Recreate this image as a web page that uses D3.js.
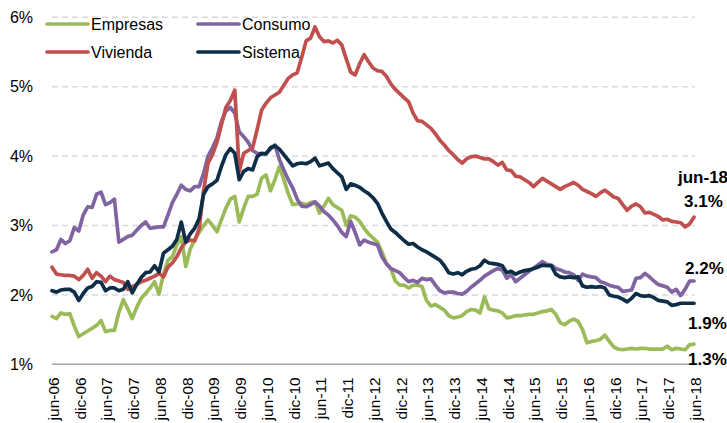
<!DOCTYPE html>
<html>
<head>
<meta charset="utf-8">
<script src="https://cdn.jsdelivr.net/npm/d3@7/dist/d3.min.js"></script>
<style>
  html, body { margin: 0; padding: 0; background: #fff; }
  svg { display: block; font-family: "Liberation Sans", Arial, sans-serif; }
</style>
</head>
<body>
<svg id="chart" width="727" height="423"></svg>
<script>
// ---- Data (monthly, jun-06 .. jun-18) ----
const xTickLabels = ["jun-06","dic-06","jun-07","dic-07","jun-08","dic-08","jun-09","dic-09","jun-10","dic-10","jun-11","dic-11","jun-12","dic-12","jun-13","dic-13","jun-14","dic-14","jun-15","dic-15","jun-16","dic-16","jun-17","dic-17","jun-18"];
const yTicks = [1, 2, 3, 4, 5, 6];
const seriesNames = ["Empresas", "Consumo", "Vivienda", "Sistema"];

const empresas = [
  1.69,1.66,1.74,1.72,1.73,1.55,1.40,1.44,1.48,1.52,1.56,1.63,
  1.47,1.49,1.49,1.75,1.93,1.80,1.66,1.82,1.95,2.02,2.10,2.19,
  2.01,2.30,2.50,2.55,2.72,2.84,2.41,2.66,2.79,2.90,3.00,3.08,
  3.00,2.91,3.08,3.25,3.38,3.42,3.05,3.25,3.42,3.42,3.45,3.68,
  3.73,3.50,3.66,3.85,3.66,3.46,3.30,3.31,3.32,3.30,3.33,3.34,
  3.18,3.28,3.39,3.30,3.26,3.22,3.00,3.14,3.12,3.06,2.96,2.88,
  2.82,2.76,2.62,2.45,2.38,2.20,2.14,2.14,2.10,2.14,2.14,2.12,
  1.92,1.84,1.86,1.82,1.78,1.70,1.67,1.68,1.70,1.76,1.79,1.78,
  1.74,1.97,1.80,1.78,1.77,1.74,1.67,1.68,1.70,1.70,1.71,1.72,
  1.72,1.74,1.76,1.77,1.79,1.72,1.60,1.57,1.62,1.65,1.62,1.50,
  1.31,1.33,1.34,1.36,1.42,1.33,1.25,1.22,1.21,1.22,1.23,1.22,
  1.23,1.23,1.22,1.22,1.22,1.22,1.26,1.21,1.23,1.22,1.21,1.28,
  1.29
];
const consumo = [
  2.62,2.65,2.80,2.74,2.78,2.97,2.92,3.15,3.27,3.26,3.45,3.48,
  3.30,3.33,3.38,2.76,2.80,2.84,2.86,2.93,3.00,3.05,2.96,2.97,
  2.98,2.98,3.15,3.33,3.45,3.58,3.52,3.50,3.56,3.56,3.75,4.00,
  4.12,4.26,4.50,4.65,4.70,4.62,4.35,4.28,4.20,4.08,4.04,4.03,
  4.04,4.10,4.16,3.95,3.80,3.66,3.54,3.38,3.28,3.27,3.30,3.34,
  3.28,3.20,3.15,3.08,3.00,2.90,2.84,3.06,2.90,2.72,2.79,2.76,
  2.74,2.72,2.55,2.45,2.38,2.35,2.32,2.25,2.19,2.21,2.18,2.24,
  2.22,2.23,2.14,2.06,2.03,2.04,2.04,2.02,2.01,2.05,2.11,2.16,
  2.21,2.27,2.31,2.35,2.38,2.36,2.24,2.29,2.19,2.24,2.29,2.34,
  2.38,2.43,2.48,2.44,2.43,2.38,2.36,2.33,2.32,2.29,2.21,2.30,
  2.27,2.26,2.25,2.19,2.17,2.14,2.12,2.11,2.05,2.06,2.07,2.24,
  2.25,2.31,2.26,2.20,2.15,2.13,2.11,2.04,2.08,1.99,2.08,2.20,
  2.20
];
const vivienda = [
  2.40,2.30,2.29,2.28,2.28,2.27,2.22,2.28,2.37,2.24,2.32,2.27,
  2.19,2.27,2.22,2.20,2.18,2.08,2.12,2.15,2.19,2.21,2.24,2.27,
  2.31,2.26,2.40,2.46,2.55,2.68,2.76,2.79,2.78,2.95,3.50,3.90,
  4.02,4.20,4.45,4.70,4.80,4.95,3.78,4.04,4.08,4.12,4.38,4.66,
  4.76,4.84,4.88,4.92,5.02,5.12,5.17,5.20,5.42,5.66,5.70,5.86,
  5.72,5.65,5.66,5.63,5.67,5.60,5.40,5.21,5.17,5.33,5.46,5.36,
  5.27,5.23,5.22,5.15,5.04,4.96,4.90,4.84,4.78,4.62,4.51,4.50,
  4.45,4.40,4.32,4.23,4.16,4.08,4.02,3.95,3.90,3.96,3.99,4.00,
  3.98,3.96,3.96,3.92,3.87,3.91,3.80,3.79,3.71,3.70,3.66,3.62,
  3.56,3.62,3.68,3.64,3.60,3.56,3.52,3.56,3.59,3.62,3.58,3.52,
  3.49,3.46,3.42,3.47,3.51,3.46,3.41,3.39,3.30,3.22,3.28,3.31,
  3.27,3.18,3.19,3.16,3.13,3.08,3.09,3.06,3.05,3.04,2.98,3.02,
  3.12
];
const sistema = [
  2.06,2.04,2.07,2.08,2.08,2.04,1.92,2.02,2.10,2.12,2.19,2.18,
  2.06,2.10,2.10,2.06,2.08,2.19,2.03,2.15,2.25,2.32,2.33,2.42,
  2.33,2.60,2.65,2.70,2.80,3.05,2.76,2.88,2.96,3.10,3.45,3.56,
  3.60,3.65,3.85,4.02,4.11,4.04,3.66,3.78,3.82,3.80,3.99,4.04,
  4.03,4.12,4.15,4.10,4.02,3.94,3.86,3.89,3.90,3.89,3.92,3.97,
  3.86,3.88,3.90,3.82,3.76,3.70,3.52,3.60,3.58,3.55,3.50,3.46,
  3.40,3.32,3.18,3.06,2.95,2.90,2.84,2.78,2.73,2.74,2.69,2.65,
  2.62,2.58,2.54,2.50,2.42,2.32,2.30,2.32,2.29,2.34,2.37,2.38,
  2.42,2.50,2.46,2.45,2.44,2.42,2.32,2.34,2.30,2.33,2.35,2.36,
  2.38,2.40,2.43,2.42,2.42,2.30,2.26,2.25,2.26,2.25,2.26,2.13,
  2.11,2.12,2.11,2.12,2.10,2.00,1.98,1.97,1.94,1.90,1.95,2.02,
  1.99,1.98,1.99,1.96,1.92,1.91,1.90,1.85,1.86,1.88,1.88,1.88,
  1.88
];
const endLabels = ["1.3%", "2.2%", "3.1%", "1.9%"];
const endTitle = "jun-18";

// ---- Layout / styles ----
const colors = { Empresas: "#9BBB59", Consumo: "#8064A2", Vivienda: "#C0504D", Sistema: "#0E2E47" };
const svg = d3.select("#chart");
const x = d3.scaleLinear().domain([0, empresas.length - 1]).range([52, 694]);
const y = d3.scaleLinear().domain([1, 6]).range([364.3, 17.3]);

// gridlines
svg.append("g").selectAll("line").data(yTicks.filter(d => d > 1)).join("line")
  .attr("x1", 52).attr("x2", 695)
  .attr("y1", d => y(d)).attr("y2", d => y(d))
  .attr("stroke", "#d9d9d9").attr("stroke-width", 1.5).attr("stroke-dasharray", "6,4");

// y axis
const yAxis = svg.append("g").attr("transform", "translate(52,0)")
  .call(d3.axisLeft(y).tickValues(yTicks).tickSize(0).tickPadding(19).tickFormat(d => d + "%"));
yAxis.select(".domain").remove();
yAxis.selectAll("text").attr("font-size", 16).attr("fill", "#000")
  .attr("font-family", "'Liberation Sans', Arial, sans-serif");

// x axis
const xTickVals = d3.range(0, empresas.length, 6);
const xAxis = svg.append("g").attr("transform", `translate(0,${y(1)})`)
  .call(d3.axisBottom(x).tickValues(xTickVals).tickSize(0).tickSizeOuter(0)
    .tickFormat((d, i) => xTickLabels[i]));
xAxis.select(".domain").attr("stroke", "#a6a6a6").attr("stroke-width", 1.5)
  .attr("d", `M52,0H695`);
xAxis.selectAll("text")
  .attr("font-size", 15.5).attr("fill", "#000")
  .attr("font-family", "'Liberation Sans', Arial, sans-serif")
  .attr("text-anchor", "end")
  .attr("transform", "translate(1,13) rotate(-90)")
  .attr("x", 0).attr("y", 0).attr("dy", "0.35em");

// lines
const dataBy = { Empresas: empresas, Consumo: consumo, Vivienda: vivienda, Sistema: sistema };
const line = d3.line().x((d, i) => x(i)).y(d => y(d));
seriesNames.forEach(name => {
  svg.append("path").datum(dataBy[name])
    .attr("fill", "none").attr("stroke", colors[name])
    .attr("stroke-width", 3.7).attr("stroke-linejoin", "round").attr("stroke-linecap", "round")
    .attr("d", line);
});

// legend
const legendPos = {
  Empresas: [47, 24], Consumo: [198, 24], Vivienda: [47, 52], Sistema: [198, 52]
};
seriesNames.forEach(name => {
  const [lx, ly] = legendPos[name];
  svg.append("line").attr("x1", lx).attr("x2", lx + 41).attr("y1", ly).attr("y2", ly)
    .attr("stroke", colors[name]).attr("stroke-width", 3.7).attr("stroke-linecap", "round");
  svg.append("text").attr("x", lx + 44).attr("y", ly).attr("dy", "0.35em")
    .attr("font-size", 16).attr("fill", "#000").text(name);
});

// end labels
svg.append("text").attr("x", 678).attr("y", 177).attr("dy", "0.35em")
  .attr("font-size", 17).attr("font-weight", "bold").attr("fill", "#000").text(endTitle);
const endY = { "3.1%": 201, "2.2%": 268, "1.9%": 323, "1.3%": 359 };
const endX = { "3.1%": 684, "2.2%": 685, "1.9%": 688, "1.3%": 688 };
endLabels.forEach(t => {
  svg.append("text").attr("x", endX[t]).attr("y", endY[t]).attr("dy", "0.35em")
    .attr("font-size", 17).attr("font-weight", "bold").attr("fill", "#000").text(t);
});
</script>
</body>
</html>
